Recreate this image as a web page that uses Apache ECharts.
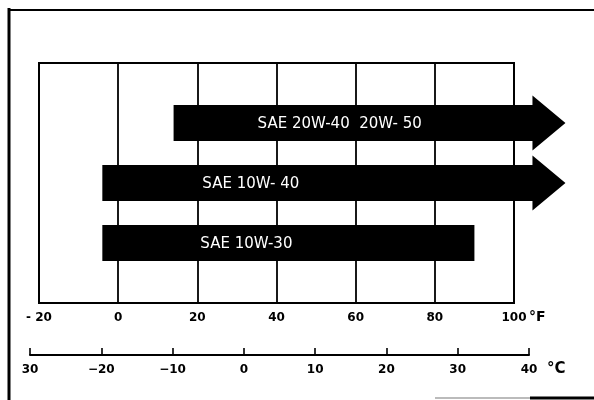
<!DOCTYPE html>
<html>
<head>
<meta charset="utf-8">
<script src="https://cdn.jsdelivr.net/npm/echarts@6/dist/echarts.min.js"></script>
<style>
html,body{margin:0;padding:0;background:#fff;}
#chart{width:594px;height:400px;}
</style>
</head>
<body>
<div id="chart"></div>
<script>
// ---- data ----
const fahrenheitTicks = [-20, 0, 20, 40, 60, 80, 100];
const celsiusTicks = [-30, -20, -10, 0, 10, 20, 30, 40];
const grades = ['SAE 20W-40  20W- 50', 'SAE 10W- 40', 'SAE 10W-30'];
const startF = [14, -4, -4];      // lower limit, °F
const endF = [113, 113, 90];      // upper limit / arrow tip, °F
const openEnded = [1, 1, 0];      // 1 = arrow (no upper limit)
const rows = [1, 2, 3];

// ---- style ----
const labelOffsets = [84, 100, 98];
const BAR_H = 36, HEAD_HALF = 27.5, HEAD_LEN = 33;
const FONT = '"DejaVu Sans", "Liberation Sans", sans-serif';

const chart = echarts.init(document.getElementById('chart'), null, {renderer: 'canvas'});

function renderItem(params, api) {
  const i = params.dataIndex;
  const s = api.coord([api.value(0), api.value(2)]);
  const e = api.coord([api.value(1), api.value(2)]);
  const cy = s[1];
  let points;
  if (api.value(3)) {
    const bx = e[0] - HEAD_LEN;
    points = [[s[0], cy - BAR_H / 2], [bx, cy - BAR_H / 2], [bx, cy - HEAD_HALF], [e[0], cy],
              [bx, cy + HEAD_HALF], [bx, cy + BAR_H / 2], [s[0], cy + BAR_H / 2]];
  } else {
    points = [[s[0], cy - BAR_H / 2], [e[0], cy - BAR_H / 2], [e[0], cy + BAR_H / 2], [s[0], cy + BAR_H / 2]];
  }
  return {
    type: 'group',
    children: [
      {type: 'polygon', shape: {points: points}, style: {fill: '#000'}},
      {type: 'text', style: {
        text: grades[i], x: s[0] + labelOffsets[i], y: cy + 1,
        align: 'left', verticalAlign: 'middle', textAlign: 'left', textVerticalAlign: 'middle',
        fill: '#fff', font: '15px ' + FONT
      }}
    ]
  };
}

const option = {
  animation: false,
  backgroundColor: '#fff',
  grid: [
    {left: 39, right: 80, top: 63, height: 240, show: true, borderColor: '#000', borderWidth: 2, backgroundColor: 'transparent'},
    {left: 30, right: 65, top: 330, height: 25}
  ],
  xAxis: [
    {
      gridIndex: 0, type: 'value', position: 'bottom',
      min: fahrenheitTicks[0], max: fahrenheitTicks[fahrenheitTicks.length - 1], interval: 20,
      axisLine: {show: true, onZero: false, lineStyle: {color: '#000', width: 2}},
      axisTick: {show: false},
      splitLine: {show: true, lineStyle: {color: '#000', width: 1.8}},
      axisLabel: {
        margin: 9, color: '#000', fontWeight: 'bold', fontSize: 12, fontFamily: FONT,
        formatter: v => (v < 0 ? '- ' + Math.abs(v) : String(v))
      },
      name: '°F', nameLocation: 'end', nameGap: 15, nameMoveOverlap: false,
      nameTextStyle: {color: '#000', fontWeight: 'bold', fontSize: 14, fontFamily: FONT, verticalAlign: 'top', padding: [7, 0, 0, 0]}
    },
    {
      gridIndex: 1, type: 'value', position: 'bottom',
      min: celsiusTicks[0], max: celsiusTicks[celsiusTicks.length - 1], interval: 10,
      axisLine: {show: true, onZero: false, lineStyle: {color: '#000', width: 2}},
      axisTick: {show: true, inside: true, length: 7, lineStyle: {color: '#000', width: 1.6}},
      splitLine: {show: false},
      axisLabel: {
        margin: 9, color: '#000', fontWeight: 'bold', fontSize: 12, fontFamily: FONT,
        formatter: v => (v === celsiusTicks[0] ? String(Math.abs(v)) : (v < 0 ? '\u2212' + Math.abs(v) : String(v)))
      },
      name: '°C', nameLocation: 'end', nameGap: 18, nameMoveOverlap: false,
      nameTextStyle: {color: '#000', fontWeight: 'bold', fontSize: 15, fontFamily: FONT, verticalAlign: 'top', padding: [7, 0, 0, 0]}
    }
  ],
  yAxis: [
    {gridIndex: 0, type: 'value', min: 0, max: 4, inverse: true, show: false},
    {gridIndex: 1, type: 'value', show: false}
  ],
  graphic: [
    {type: 'line', shape: {x1: 9, y1: 8, x2: 9, y2: 400}, style: {stroke: '#000', lineWidth: 3}},
    {type: 'line', shape: {x1: 8, y1: 10, x2: 594, y2: 10}, style: {stroke: '#000', lineWidth: 2}},
    {type: 'line', shape: {x1: 435, y1: 398, x2: 530, y2: 398}, style: {stroke: '#bbb', lineWidth: 2}},
    {type: 'line', shape: {x1: 530, y1: 398, x2: 594, y2: 398}, style: {stroke: '#000', lineWidth: 3}}
  ],
  series: [{
    type: 'custom',
    xAxisIndex: 0, yAxisIndex: 0,
    clip: false, z: 10,
    renderItem: renderItem,
    data: rows.map((r, i) => [startF[i], endF[i], r, openEnded[i]])
  }]
};
chart.setOption(option);
</script>
</body>
</html>
